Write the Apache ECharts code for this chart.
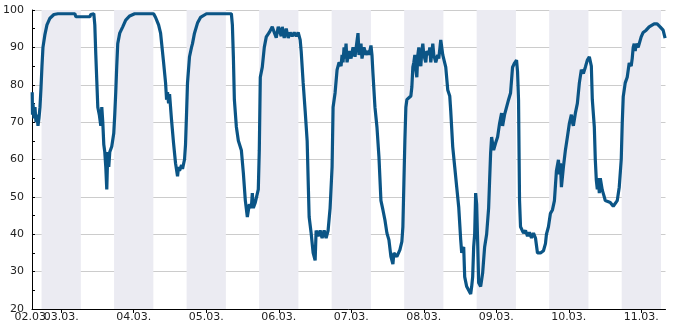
<!DOCTYPE html>
<html><head><meta charset="utf-8">
<script src="https://cdn.jsdelivr.net/npm/echarts@6/dist/echarts.min.js"></script>
<style>html,body{margin:0;padding:0;background:#fff}#c{width:685px;height:330px}</style>
</head><body><div id="c"></div>
<script>
// hours relative to 03.03. 00:00
const hours = [-9.6,-9.5,-9.34,-9.0,-8.68,-8.35,-8.02,-7.69,-7.36,-7.03,-6.7,-6.37,-6.04,-5.38,-4.72,-3.73,-2.41,-1.09,4.52,4.85,9.47,9.8,10.79,11.12,11.45,11.78,12.11,12.6,13.1,13.43,13.76,14.09,14.42,14.75,15.08,15.41,15.74,16.07,16.73,17.39,17.72,18.05,18.38,18.71,19.37,20.36,21.35,22.67,24.31,30.58,31.24,32.23,32.89,33.88,34.54,34.87,35.2,35.53,35.86,36.52,37.18,37.84,38.5,38.83,39.16,39.82,40.15,40.81,41.14,41.47,41.8,42.46,43.12,43.45,44.11,45.1,46.09,48.07,56.32,56.65,56.98,57.31,57.97,58.63,59.62,60.28,60.94,61.6,62.26,62.92,63.25,63.58,64.24,64.9,65.23,65.56,65.89,66.55,67.21,67.87,68.86,69.85,70.51,71.17,71.83,72.49,72.82,73.15,73.81,74.47,75.13,75.79,76.45,77.11,77.77,78.43,79.09,79.42,80.08,80.74,81.4,81.73,82.06,82.72,83.38,84.04,84.37,85.03,85.69,86.35,87.01,87.67,88.33,88.99,89.65,89.98,90.64,91.3,91.96,92.62,92.95,93.28,93.61,93.94,94.27,94.6,95.26,95.92,96.58,97.24,97.9,98.23,98.56,99.22,99.55,100.21,100.87,101.53,101.86,102.52,102.85,103.18,103.84,104.5,105.16,105.82,106.48,107.14,107.8,108.46,109.12,109.78,110.11,111.1,112.09,112.75,113.08,113.41,113.74,114.07,114.4,115.06,115.72,116.05,116.38,116.71,117.04,117.37,117.7,118.03,118.36,118.69,119.02,119.35,119.68,120.01,120.67,121.0,121.66,121.99,122.32,122.98,123.31,123.97,124.63,124.96,125.62,125.95,126.28,126.61,127.27,127.93,128.59,128.92,129.58,130.24,130.9,131.56,132.22,132.55,132.88,133.21,133.54,134.2,134.86,135.52,135.85,136.18,136.51,136.84,137.17,137.5,137.83,138.16,138.82,139.48,140.14,140.8,141.46,141.79,142.12,142.45,143.11,143.77,144.43,145.09,145.75,146.08,146.74,147.4,148.06,148.72,149.38,150.04,150.7,151.03,151.36,151.69,152.02,153.01,153.67,154.33,154.99,155.65,156.31,156.97,157.3,157.63,158.62,159.61,160.27,160.6,161.26,161.92,162.58,163.24,163.9,164.56,164.89,165.22,165.55,166.21,166.87,167.53,168.19,168.85,169.18,169.51,170.17,170.83,171.49,172.15,172.81,173.47,174.13,174.79,175.45,175.78,176.44,176.77,177.1,177.43,177.76,178.09,178.42,179.08,179.74,180.07,180.73,181.72,182.71,183.37,184.03,184.69,185.35,185.68,186.01,186.67,187.33,187.99,188.65,188.98,189.31,189.64,189.97,190.3,190.96,191.95,192.61,193.6,194.59,195.25,196.24,197.23,198.22,199.21,199.87];
const humidity = [78,72,75,71,74,70,72,69,71,74,79,85,90,93.5,96,97.8,98.8,99,99,98.2,98.2,98.8,99,96,88,81,74,72,69,74,70,64,62,58,52,62,58,62,63.5,67,72,78,85,91,93.8,95.5,97.3,98.4,99,99,98,96,93.8,86,80.5,76,78,75,77.5,70.5,64.4,59,55.5,58,57,58.5,57.5,60,64,72,80.5,87.5,90,91,93.8,96.5,98,99,99,96,87.5,76,68.7,65,62.5,56.4,49,44.6,48,47,51,47,48.5,48,52,62.5,82,84.7,90,92.8,94,95.5,94,92.6,95.5,96,93,95.5,92.5,95,92.5,94,93,94,93,94,92,89,80.5,73,65,54.5,44.6,40.3,35,33,41,39.5,41,39,41,39,41,47,58,74,77.8,84,86,85,88,86,90,87,91,86,89,87,90,87.5,88,93.8,88,91,87,90,88,89,88,90.5,88,83,74,68.7,60.7,49,46.5,43.8,40.3,38.5,34,32,35,34,35.8,38,42,53.6,65,74,76,75.5,77,79.4,84.7,86,88,84,82,88,90,86,85,89,91,88,86,89,88,90,86,91,88,86,88,87,92,91.5,88,88,84.7,78.6,77,73,63.4,58,52.6,47.3,38.5,35,36,36.6,28.6,26,25,24,26,28.6,36.6,40,51,48,38,27,26,29.6,36.6,40,47,54.5,61.7,66,62.5,64.4,66,69.7,72.4,69,72,72.4,76,77.8,84.7,85.8,86.6,83.5,76,49,42,40.3,41,39.5,40.5,39,40.3,39,38.6,35,35,35.6,37.5,40,42,45.6,46.5,49,57,59.9,56,59,52.6,58,62.5,66,69.7,72,70,69,72.4,75,80.5,84,83,84.7,86.6,87.5,85,76,68.7,59.9,54.5,52,55,51,55,51.8,50,49,49.5,48.5,47.5,48,49,52.6,60,69.7,76.8,80.5,82,85.8,85,87,90,91,89,91,90,92.8,94,94.6,95.5,96,96.3,96.3,95.5,94.6,92.5];
const tickHours = [0,24,48,72,96,120,144,168,192];
const tickLabels = ['03.03.','04.03.','05.03.','06.03.','07.03.','08.03.','09.03.','10.03.','11.03.'];
const startHour = -9.67;
const startLabel = '02.03.';
const nightStart = [-6.5,17.5,41.5,65.5,89.5,113.5,137.5,161.5,185.5];
const nightEnd = [6.5,30.5,54.5,78.5,102.5,126.5,150.5,174.5,198.5];

const FONT = 'DejaVu Sans';
const chart = echarts.init(document.getElementById('c'), null, {renderer:'canvas'});
const data = hours.map((h,i)=>[h, humidity[i]]);
const areas = nightStart.map((s,i)=>[{xAxis:s},{xAxis:nightEnd[i]}]);
const labelStyle = {color:'#222', fontFamily:FONT, fontSize:11, margin:3};
chart.setOption({
  animation:false,
  grid:{left:30,right:19.5,top:10,bottom:21,containLabel:false},
  xAxis:[{
    type:'value', min:startHour, max:200, position:'bottom',
    axisLine:{onZero:false, lineStyle:{color:'#000',width:1}},
    axisTick:{show:true, customValues:tickHours, length:4, lineStyle:{color:'#000'}},
    axisLabel:Object.assign({customValues:tickHours, hideOverlap:false,
      formatter:(v)=>{const i = tickHours.findIndex(x=>Math.abs(x-v)<0.01); return i>=0?tickLabels[i]:'';}}, labelStyle),
    splitLine:{show:true, lineStyle:{color:'#cccccc',width:1}}
  },{
    type:'value', min:startHour, max:200, position:'bottom',
    axisLine:{show:false, onZero:false}, axisTick:{show:false}, splitLine:{show:false},
    axisLabel:Object.assign({customValues:[startHour], showMinLabel:true, formatter:()=>startLabel}, labelStyle)
  }],
  yAxis:{
    type:'value', min:20, max:100, interval:10,
    axisLine:{show:true, onZero:false, lineStyle:{color:'#000',width:1}},
    axisTick:{show:true, inside:true, length:3, lineStyle:{color:'#000'}},
    minorTick:{show:true, splitNumber:2, length:3, lineStyle:{color:'#000'}},
    axisLabel:{show:true, color:'#222', fontFamily:FONT, fontSize:11, margin:8, showMinLabel:true, showMaxLabel:true},
    splitLine:{show:true, lineStyle:{color:'#cccccc',width:1}}
  },
  series:[{
    type:'line', xAxisIndex:0, data:data, showSymbol:false, symbol:'none',
    lineStyle:{color:'#0b5586', width:3.2},
    z:3,
    markArea:{silent:true, itemStyle:{color:'#ebebf2'}, data:areas, z:0}
  }]
});
</script></body></html>
